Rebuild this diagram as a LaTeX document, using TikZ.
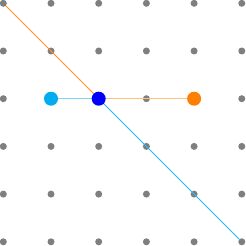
\documentclass[tikz,border=0pt]{standalone}
\definecolor{dotgray}{HTML}{7F7F7F}
\definecolor{myorange}{HTML}{FF7F00}
\definecolor{mycyan}{HTML}{00AEEF}
\definecolor{myblue}{HTML}{0000FF}
\begin{document}
\begin{tikzpicture}[x=1pt,y=-1pt,
  griddot/.style={circle,fill=dotgray,inner sep=0pt,minimum size=7pt},
  bigdot/.style={circle,inner sep=0pt,minimum size=14pt},
  conn/.style={line width=0.9pt}]
\useasboundingbox (0,0) rectangle (246,246);
\foreach \i in {0,...,5}{
  \foreach \j in {0,...,5}{
    \node[griddot] (g\i\j) at ({3.3+47.7*\i},{3.3+47.7*\j}) {};
  }
}
\coordinate (c11) at (g22);
\draw[conn,myorange!85] (g00) -- (g22);
\draw[conn,mycyan!85] (g22) -- (g55);
\draw[conn,myorange!50] (g22) -- (g42);
\draw[conn,mycyan!50] (g12) -- (g22);
\node[bigdot,fill=mycyan] (lb) at (g12) {};
\node[bigdot,fill=myorange] (or) at (g42) {};
\node[bigdot,fill=myblue] (bl) at (g22) {};
\end{tikzpicture}
\end{document}
